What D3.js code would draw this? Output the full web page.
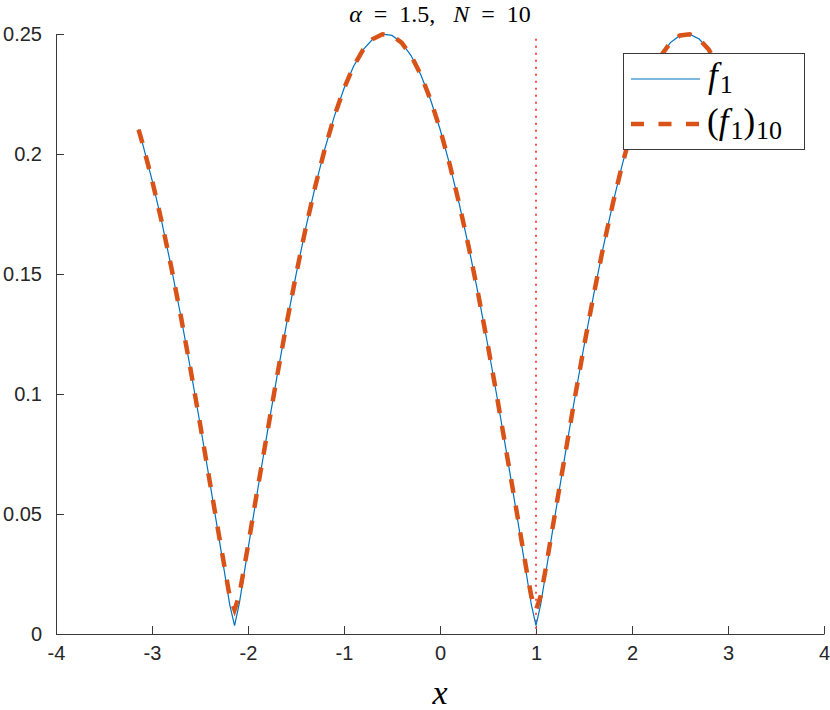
<!DOCTYPE html>
<html><head><meta charset="utf-8">
<script src="https://cdn.jsdelivr.net/npm/d3@7"></script>
<style>body{margin:0;background:#fff}svg{display:block}</style>
</head><body>
<script>
// data
const xVals = [-3.14,-3.1,-3.0,-2.9,-2.8,-2.7,-2.6,-2.5,-2.4,-2.3,-2.2,-2.19,-2.14,-2.09,-2.0,-1.9,-1.8,-1.7,-1.6,-1.5,-1.4,-1.3,-1.2,-1.1,-1.0,-0.9,-0.8,-0.7,-0.6,-0.5,-0.4,-0.3,-0.2,-0.1,0.0,0.1,0.2,0.3,0.4,0.5,0.6,0.7,0.8,0.9,0.95,1.0,1.05,1.1,1.2,1.3,1.4,1.5,1.6,1.7,1.8,1.9,2.0,2.1,2.2,2.3,2.4,2.5,2.6,2.7,2.8,2.9,3.0,3.1,3.14];
const f1 = [0.2102,0.2046,0.1892,0.1720,0.1530,0.1325,0.1106,0.0877,0.0639,0.0394,0.0146,0.0121,0.0035,0.0129,0.0353,0.0598,0.0837,0.1068,0.1289,0.1496,0.1689,0.1864,0.2021,0.2158,0.2273,0.2366,0.2435,0.2479,0.2499,0.2494,0.2464,0.2409,0.2330,0.2228,0.2104,0.1958,0.1793,0.1611,0.1412,0.1199,0.0974,0.0739,0.0497,0.0250,0.0125,0.0035,0.0125,0.0250,0.0497,0.0739,0.0974,0.1199,0.1412,0.1611,0.1793,0.1958,0.2104,0.2228,0.2330,0.2409,0.2464,0.2494,0.2499,0.2479,0.2435,0.2366,0.2273,0.2158,0.2102];
const f1N = [0.2102,0.2046,0.1892,0.1720,0.1530,0.1325,0.1106,0.0877,0.0639,0.0406,0.0177,0.0157,0.0101,0.0163,0.0367,0.0606,0.0837,0.1068,0.1289,0.1496,0.1689,0.1864,0.2021,0.2158,0.2273,0.2366,0.2435,0.2479,0.2499,0.2494,0.2464,0.2409,0.2330,0.2228,0.2104,0.1958,0.1793,0.1611,0.1412,0.1199,0.0974,0.0739,0.0507,0.0269,0.0160,0.0100,0.0160,0.0269,0.0507,0.0739,0.0974,0.1199,0.1412,0.1611,0.1793,0.1958,0.2104,0.2228,0.2330,0.2409,0.2464,0.2494,0.2499,0.2479,0.2435,0.2366,0.2273,0.2158,0.2102];
const xTicks = [-4,-3,-2,-1,0,1,2,3,4];
const xTickLabels = ["-4","-3","-2","-1","0","1","2","3","4"];
const yTicks = [0,0.05,0.1,0.15,0.2,0.25];
const yTickLabels = ["0","0.05","0.1","0.15","0.2","0.25"];
const markerX = 1;

const W = 830, H = 710;
const L = 56, R = 824, T = 34, B = 634;
const svg = d3.select("body").append("svg").attr("width", W).attr("height", H);
const x = d3.scaleLinear().domain([-4, 4]).range([L, R]);
const y = d3.scaleLinear().domain([0, 0.25]).range([B, T]);
const axisCol = "#3a3a3a";
const tickFont = "'Liberation Sans', Arial, sans-serif";
const serif = "'Liberation Serif', 'Times New Roman', serif";

// axes
const gx = svg.append("g").attr("transform", `translate(0,${B})`)
  .call(d3.axisBottom(x).tickValues(xTicks).tickSizeInner(-8).tickSizeOuter(0).tickPadding(12).tickFormat((d,i)=>xTickLabels[i]));
const gy = svg.append("g").attr("transform", `translate(${L},0)`)
  .call(d3.axisLeft(y).tickValues(yTicks).tickSizeInner(-8).tickSizeOuter(0).tickPadding(14).tickFormat((d,i)=>yTickLabels[i]));
[gx, gy].forEach(g => {
  g.select(".domain").attr("stroke", axisCol).attr("stroke-width", 1);
  g.selectAll(".tick line").attr("stroke", axisCol).attr("stroke-width", 1);
  g.selectAll(".tick text").attr("fill", "#262626").attr("font-family", tickFont).attr("font-size", 20);
});

const pts = xVals.map((d, i) => ({x: d, a: f1[i], b: f1N[i]}));

// vertical dotted marker
svg.append("line").attr("x1", x(markerX)).attr("x2", x(markerX)).attr("y1", y(0.248)).attr("y2", B)
  .attr("stroke", "#ff4d4d").attr("stroke-width", 2).attr("stroke-dasharray", "2,5");

// f1 (blue)
svg.append("path").datum(pts)
  .attr("d", d3.line().x(d => x(d.x)).y(d => y(d.a)))
  .attr("fill", "none").attr("stroke", "#0072BD").attr("stroke-width", 1.2);
// (f1)_10 (orange dashed)
svg.append("path").datum(pts)
  .attr("d", d3.line().x(d => x(d.x)).y(d => y(d.b)))
  .attr("fill", "none").attr("stroke", "#D95319").attr("stroke-width", 4.5)
  .attr("stroke-dasharray", "14,13");

// title
const title = svg.append("text").attr("x", (L + R) / 2).attr("y", 22).attr("text-anchor", "middle")
  .attr("font-family", serif).attr("font-size", 24).attr("fill", "#000").style("white-space", "pre");
title.append("tspan").attr("font-style", "italic").text("α");
title.append("tspan").text("  =  1.5,   ");
title.append("tspan").attr("font-style", "italic").text("N");
title.append("tspan").text("  =  10");

// x label
svg.append("text").attr("x", (L + R) / 2).attr("y", 704).attr("text-anchor", "middle")
  .attr("font-family", serif).attr("font-style", "italic").attr("font-size", 34).text("x");

// legend
const lg = svg.append("g");
lg.append("rect").attr("x", 623.5).attr("y", 53.5).attr("width", 181).attr("height", 96)
  .attr("fill", "#fff").attr("stroke", "#3a3a3a").attr("stroke-width", 1);
lg.append("line").attr("x1", 631).attr("x2", 700).attr("y1", 79).attr("y2", 79)
  .attr("stroke", "#0072BD").attr("stroke-width", 1.2);
lg.append("line").attr("x1", 631).attr("x2", 700).attr("y1", 124).attr("y2", 124)
  .attr("stroke", "#D95319").attr("stroke-width", 4.5).attr("stroke-dasharray", "13,14.5");
const t1 = lg.append("text").attr("x", 708).attr("y", 87).attr("font-family", serif).attr("font-size", 35).attr("fill", "#000");
t1.append("tspan").attr("font-style", "italic").text("f");
t1.append("tspan").attr("font-size", 26).attr("dy", 6).attr("dx", 2).text("1");
const t2 = lg.append("text").attr("x", 707).attr("y", 133).attr("font-family", serif).attr("font-size", 35).attr("fill", "#000");
t2.append("tspan").text("(");
t2.append("tspan").attr("font-style", "italic").text("f");
t2.append("tspan").attr("font-size", 26).attr("dy", 6).attr("dx", 2).text("1");
t2.append("tspan").attr("dy", -6).text(")");
t2.append("tspan").attr("font-size", 26).attr("dy", 6).attr("dx", 1).text("10");
</script>
</body></html>
